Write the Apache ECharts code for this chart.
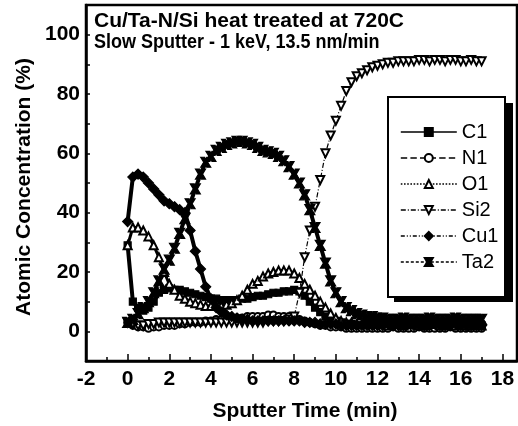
<!DOCTYPE html>
<html>
<head>
<meta charset="utf-8">
<script src="https://cdn.jsdelivr.net/npm/echarts@6/dist/echarts.min.js"></script>
<style>
  html, body { margin: 0; padding: 0; background: #fff; }
  #chart { width: 518px; height: 426px; }
</style>
</head>
<body>
<div id="chart"></div>
<script>
// sputter time (min), one reading every 0.25 min
var times = [0, 0.25, 0.5, 0.75, 1, 1.25, 1.5, 1.75, 2, 2.25, 2.5, 2.75, 3, 3.25, 3.5, 3.75,
  4, 4.25, 4.5, 4.75, 5, 5.25, 5.5, 5.75, 6, 6.25, 6.5, 6.75, 7, 7.25, 7.5, 7.75,
  8, 8.25, 8.5, 8.75, 9, 9.25, 9.5, 9.75, 10, 10.25, 10.5, 10.75, 11, 11.25, 11.5, 11.75,
  12, 12.25, 12.5, 12.75, 13, 13.25, 13.5, 13.75, 14, 14.25, 14.5, 14.75, 15, 15.25, 15.5, 15.75,
  16, 16.25, 16.5, 16.75, 17];

var c1 = [29, 10, 8, 7, 8, 10, 13, 14, 14.5, 14, 14, 13.5, 13, 12.5, 12, 11.5,
  11, 11, 10.5, 10.5, 10.5, 10.5, 11, 11, 11.5, 12, 12, 12.5, 13, 13, 13.5, 13.5,
  14, 13.5, 12, 10, 8, 6.5, 5, 4, 3.5, 3, 2.5, 2.5, 2, 2, 2, 1.5,
  2, 1.5, 2, 2, 1.5, 2, 2, 1.5, 2, 2, 1.5, 2, 2, 2, 1.5, 2,
  2, 1.5, 2, 2, 2];
var n1 = [3, 2, 1.5, 1.5, 1, 1.5, 1.5, 2, 2, 2, 2.5, 2.5, 3, 3, 3, 3.5,
  3.5, 4, 4, 4, 4.5, 4.5, 4.5, 5, 5, 5, 5, 5.5, 5.5, 5, 5, 5,
  4.5, 4, 3.5, 3, 2.5, 2, 2, 1.5, 1.5, 1.5, 1, 1, 1, 1, 1, 1,
  1, 1, 1, 1.5, 1, 1, 1, 1, 1.5, 1, 1, 1, 1, 1, 1.5, 1,
  1, 1, 1, 1, 1];
var o1 = [29, 35, 35, 34, 32, 29, 25, 20, 16, 14, 12, 11, 10, 9.5, 9, 8.5,
  8.5, 8.5, 8.5, 9, 9.5, 10.5, 12, 14, 16, 17, 18.5, 19.5, 20, 20.5, 20.5, 20.5,
  19.5, 18, 16, 14, 12, 10, 8, 6, 4.5, 3.5, 3, 3, 2.5, 2.5, 2.5, 2.5,
  2.5, 2.5, 2, 2.5, 2.5, 2, 2.5, 2.5, 2, 2, 2.5, 2.5, 2, 2.5, 2, 2,
  2.5, 2, 2, 2.5, 2];
var si2 = [3, 2.5, 2, 2, 2.5, 2.5, 3, 3, 3, 3, 3, 3, 3, 3, 3, 3,
  3, 3, 3, 3, 3, 3, 3, 3, 3, 3, 3, 3.5, 3.5, 3.5, 3.5, 4,
  5, 13, 25, 34, 42, 51, 60, 66, 71, 76, 81, 84, 86, 87, 88, 89,
  89.5, 90, 90.5, 90.5, 91, 91, 91, 91, 91.5, 91.5, 91, 91.5, 91.5, 91, 91.5, 91.5,
  91, 91, 91.5, 91, 91];
var cu1 = [37, 52, 53, 52, 50, 48, 46, 44, 43, 42, 41, 40, 34, 27, 21, 15,
  11, 8, 6.5, 5.5, 5, 4.5, 4, 4, 3.5, 3.5, 3.5, 3.5, 3.5, 3.5, 3.5, 3.5,
  3.5, 3.5, 3, 3, 3, 2.5, 2.5, 2.5, 2.5, 2, 2, 2, 2, 2, 2, 2,
  2, 2, 2.5, 2, 2, 2, 2.5, 2, 2, 2, 2, 2.5, 2, 2, 2, 2.5,
  2, 2, 2, 2, 2];
var ta2 = [3, 4, 6, 8, 10, 13, 17, 21, 24, 28, 33, 38, 43, 48, 53, 57,
  59, 61, 62, 63, 63.5, 64, 64, 63.5, 63, 62, 61, 60.5, 60, 59, 57.5, 55.5,
  53, 50, 46, 41, 35, 29, 23, 17, 13, 10, 8, 7, 6, 5.5, 5, 5,
  4.5, 4.5, 4, 4, 4, 4.5, 4, 4, 4, 4, 4.5, 4, 4, 4, 4, 4.5,
  4, 4, 4, 4, 4];

var xTicks = [-2, 0, 2, 4, 6, 8, 10, 12, 14, 16, 18];
var yTicks = [0, 20, 40, 60, 80, 100];

function pairs(ys) {
  return times.map(function (t, i) { return [t, ys[i]]; });
}

var FONT = '"Liberation Sans", Arial, Helvetica, sans-serif';
var taSymbol = 'path://M0,0H4L5,3L6,0H10L7,5L10,10H6L5,7L4,10H0L3,5Z';

var myChart = echarts.init(document.getElementById("chart"));

// the original data points are so dense the curves read as thick bands,
// so plot lines are drawn heavy; the legend keeps the thin dash patterns
function line(name, data, symbol, size, width, dash, rotate) {
  return {
    name: name,
    type: "line",
    data: pairs(data),
    symbol: symbol,
    symbolSize: size,
    symbolRotate: rotate || 0,
    showAllSymbol: true,
    animation: false,
    lineStyle: { color: "#000", width: width, type: dash || "solid" },
    itemStyle: { color: "#000", borderColor: "#000", borderWidth: 1.2 },
    emphasis: { disabled: true }
  };
}

var tickStyle = { color: "#000", width: 1.5 };

function legendItem(name, dash) {
  return { name: name, lineStyle: { type: dash, width: 1.6, color: "#000" } };
}

var option = {
  animation: false,
  grid: {
    left: 86, right: 1, top: 5, bottom: 65,
    show: true, borderColor: "#000", borderWidth: 2.5
  },
  xAxis: [
    {
      type: "value", min: -2, max: 18.7, interval: 1,
      axisLine: { onZero: false, lineStyle: { color: "#000", width: 2.5 } },
      axisTick: { show: true, inside: true, length: 4, lineStyle: tickStyle },
      axisLabel: {
        customValues: xTicks, margin: 8,
        color: "#000", fontFamily: FONT, fontWeight: "bold", fontSize: 21
      },
      splitLine: { show: false }
    },
    {
      type: "value", min: -2, max: 18.7, interval: 2, position: "bottom",
      axisLine: { show: false, onZero: false },
      axisTick: { show: true, inside: true, length: 7, lineStyle: tickStyle },
      axisLabel: { show: false },
      splitLine: { show: false }
    }
  ],
  yAxis: [
    {
      type: "value", min: -10, max: 110, interval: 10,
      axisLine: { show: true, onZero: false, lineStyle: { color: "#000", width: 2.5 } },
      axisTick: { show: true, inside: true, length: 4, lineStyle: tickStyle },
      axisLabel: {
        customValues: yTicks, margin: 6,
        color: "#000", fontFamily: FONT, fontWeight: "bold", fontSize: 21
      },
      splitLine: { show: false }
    }
  ],
  legend: {
    orient: "vertical",
    left: 400, top: 122, padding: 0,
    itemWidth: 56, itemHeight: 10, itemGap: 6,
    z: 20,
    textStyle: { color: "#000", fontFamily: FONT, fontSize: 20 },
    data: [
      legendItem("C1", "solid"),
      legendItem("N1", "dashed"),
      legendItem("O1", "dotted"),
      legendItem("Si2", [5, 2, 1, 2]),
      legendItem("Cu1", [4, 2, 1, 2, 1, 2]),
      legendItem("Ta2", [3, 2])
    ]
  },
  graphic: [
    { type: "rect", z: 15, shape: { x: 394, y: 103, width: 119, height: 199 }, style: { fill: "#000" } },
    { type: "rect", z: 16, shape: { x: 388, y: 97, width: 117, height: 200 }, style: { fill: "#fff", stroke: "#000", lineWidth: 2 } },
    {
      type: "text", z: 20, x: 94, y: 21, scaleX: 1.05,
      style: { text: "Cu/Ta-N/Si heat treated at 720C", font: "bold 20px " + FONT, fill: "#000", verticalAlign: "middle" }
    },
    {
      type: "text", z: 20, x: 94, y: 42, scaleX: 0.9,
      style: { text: "Slow Sputter - 1 keV, 13.5 nm/min", font: "bold 20px " + FONT, fill: "#000", verticalAlign: "middle" }
    },
    {
      type: "text", z: 20, x: 305, y: 411,
      style: { text: "Sputter Time (min)", font: "bold 21px " + FONT, fill: "#000", align: "center", verticalAlign: "middle" }
    },
    {
      type: "text", z: 20, x: 24, y: 187, rotation: Math.PI / 2,
      style: { text: "Atomic Concentration (%)", font: "bold 21px " + FONT, fill: "#000", align: "center", verticalAlign: "middle" }
    }
  ],
  series: [
    line("C1", c1, "rect", 7, 4),
    line("N1", n1, "emptyCircle", 7, 4),
    line("O1", o1, "emptyTriangle", 8, 3),
    line("Si2", si2, "emptyTriangle", 8, 1.2, [5, 2, 1, 2], 180),
    line("Cu1", cu1, "diamond", 10, 4),
    line("Ta2", ta2, taSymbol, 10, 4)
  ]
};

myChart.setOption(option);
</script>
</body>
</html>
